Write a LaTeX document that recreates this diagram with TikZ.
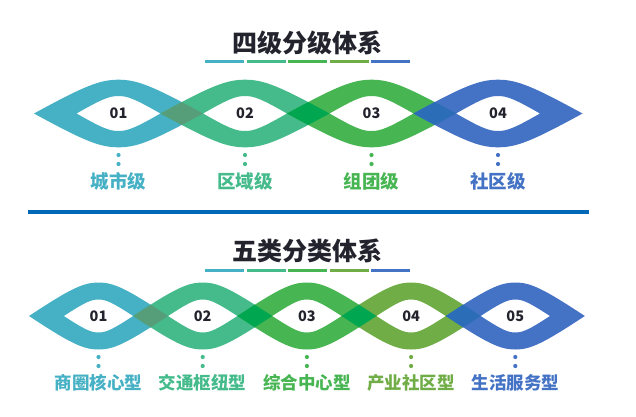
\documentclass[tikz,border=0pt]{standalone}
\usepackage{fontspec}
\newfontfamily\cjk{Noto Sans CJK SC}
\usepackage{xcolor}
\usepackage{tikz}
\usetikzlibrary{positioning,calc}

\definecolor{cA}{HTML}{46B0C4}
\definecolor{cB}{HTML}{45BB8C}
\definecolor{cC}{HTML}{48B553}
\definecolor{cD}{HTML}{70AD47}
\definecolor{cE}{HTML}{4472C4}
\definecolor{oAB}{HTML}{559E79}
\definecolor{oBC}{HTML}{00A650}
\definecolor{oCE}{HTML}{2B6DB7}
\definecolor{rulecol}{HTML}{0068B7}
\definecolor{ink}{HTML}{23232D}

% lens outline: centre x, centre y, half length, half height
\newcommand{\eye}[4]{(#1-#3,#2) .. controls (#1-0.4*#3,#2-0.82*#4) and (#1-0.22*#3,#2-#4) .. (#1,#2-#4)
  .. controls (#1+0.22*#3,#2-#4) and (#1+0.4*#3,#2-0.82*#4) .. (#1+#3,#2)
  .. controls (#1+0.4*#3,#2+0.82*#4) and (#1+0.22*#3,#2+#4) .. (#1,#2+#4)
  .. controls (#1-0.22*#3,#2+#4) and (#1-0.4*#3,#2+0.82*#4) .. (#1-#3,#2) -- cycle}

\begin{document}
\begin{tikzpicture}[x=1pt, y=-1pt,
    title/.style={text=ink, font=\cjk\bfseries\fontsize{25}{30}\selectfont, inner sep=0},
    num/.style={text=ink, font=\cjk\bfseries\fontsize{14.5}{16}\selectfont, inner sep=0},
    labA/.style={font=\cjk\bfseries\fontsize{18.5}{22}\selectfont, inner sep=0},
    labB/.style={font=\cjk\bfseries\fontsize{17.5}{21}\selectfont, inner sep=0},
    dot/.style={circle, inner sep=0, minimum size=4.2}]
    \useasboundingbox (0,0) rectangle (636,416);

    % upper block
    \node[title] (T1) at (307.5,42.5) {四级分级体系};
    \foreach \i/\col in {0/cA,1/cB,2/cC,3/cD,4/cE}
        \fill[\col] ({205+\i*41.5},60) rectangle ({244+\i*41.5},63);
    \foreach \i/\col/\lab in {1/cA/城市级, 2/cB/区域级, 3/cC/组团级, 4/cE/社区级} {
        \pgfmathsetmacro\cx{118.5+(\i-1)*126.5}
        \fill[\col, even odd rule] \eye{\cx}{113.5}{84.5}{33.8} \eye{\cx}{113.5}{42}{17.5};
        \node[dot, fill=\col] (ta\i) at (\cx,155) {};
        \node[dot, fill=\col] (tb\i) at (\cx,164) {};
        \node[labA, text=\col] (tl\i) at (\cx,181) {\lab};
    }
    \foreach \i/\ov in {1/oAB, 2/oBC, 3/oCE} {
        \pgfmathsetmacro\cx{118.5+(\i-1)*126.5}
        \pgfmathsetmacro\nx{\cx+126.5}
        \begin{scope}
            \clip \eye{\cx}{113.5}{84.5}{33.8};
            \clip \eye{\nx}{113.5}{84.5}{33.8};
            \fill[\ov] (\cx,70) rectangle (\nx,160);
            \fill[white] \eye{\cx}{113.5}{42}{17.5};
            \fill[white] \eye{\nx}{113.5}{42}{17.5};
        \end{scope}
    }
    \foreach \i in {1,...,4} {
        \pgfmathsetmacro\cx{118.5+(\i-1)*126.5}
        \node[num] (tn\i) at (\cx,113.5) {0\i};
    }

    \draw[rulecol, line width=4] (28,212) -- (589,212);

    % lower block
    \node[title] (T2) at (307.5,250.5) {五类分类体系};
    \foreach \i/\col in {0/cA,1/cB,2/cC,3/cD,4/cE}
        \fill[\col] ({205+\i*41.5},269) rectangle ({244+\i*41.5},272);
    \foreach \i/\col/\lab in {1/cA/商圈核心型, 2/cB/交通枢纽型, 3/cC/综合中心型, 4/cD/产业社区型, 5/cE/生活服务型} {
        \pgfmathsetmacro\cx{98.5+(\i-1)*104.2}
        \fill[\col, even odd rule] \eye{\cx}{316}{69.5}{33.5} \eye{\cx}{316}{34.7}{16.5};
        \node[dot, fill=\col] (ba\i) at (\cx,357) {};
        \node[dot, fill=\col] (bb\i) at (\cx,366) {};
        \node[labB, text=\col] (bl\i) at (\cx,383) {\lab};
    }
    \foreach \i/\ov in {1/oAB, 2/oBC, 3/oBC, 4/oCE} {
        \pgfmathsetmacro\cx{98.5+(\i-1)*104.2}
        \pgfmathsetmacro\nx{\cx+104.2}
        \begin{scope}
            \clip \eye{\cx}{316}{69.5}{33.5};
            \clip \eye{\nx}{316}{69.5}{33.5};
            \fill[\ov] (\cx,270) rectangle (\nx,360);
            \fill[white] \eye{\cx}{316}{34.7}{16.5};
            \fill[white] \eye{\nx}{316}{34.7}{16.5};
        \end{scope}
    }
    \foreach \i in {1,...,5} {
        \pgfmathsetmacro\cx{98.5+(\i-1)*104.2}
        \node[num] (bn\i) at (\cx,316) {0\i};
    }
\end{tikzpicture}
\end{document}
